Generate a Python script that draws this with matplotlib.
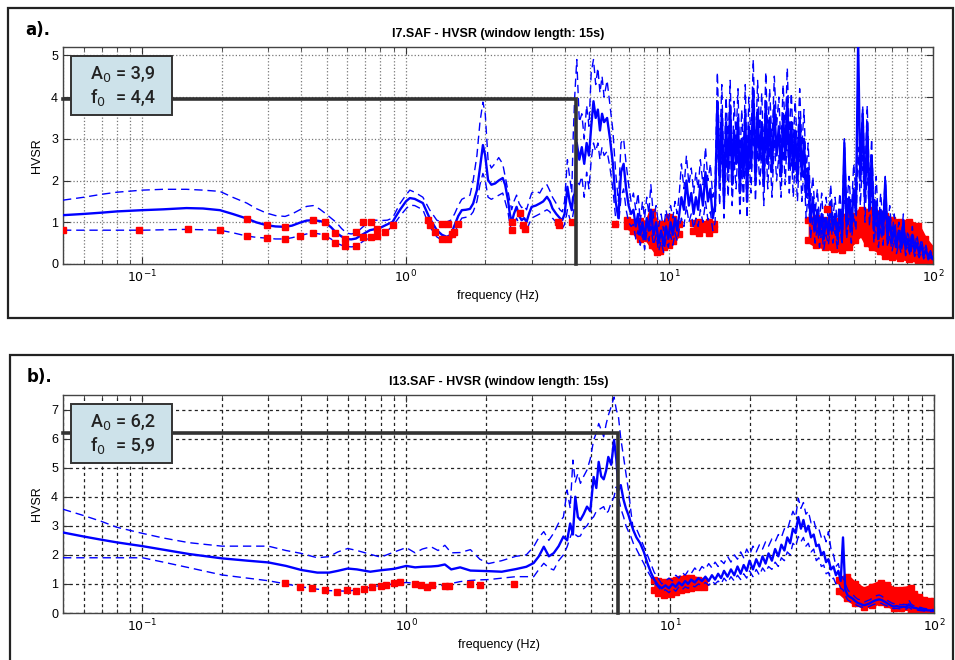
import matplotlib
matplotlib.use("Agg")
import matplotlib.pyplot as plt
from matplotlib.patches import Rectangle
from matplotlib.ticker import FixedLocator, NullFormatter

plt.rcParams['font.family'] = ['Liberation Sans', 'DejaVu Sans']

# ---------------- panel a) : I7.SAF ----------------
a_freq = [
    0.05, 0.06, 0.07, 0.08, 0.1, 0.12, 0.147, 0.17, 0.197, 0.22,
    0.249, 0.27, 0.296, 0.32, 0.348, 0.37, 0.396, 0.42, 0.445, 0.47,
    0.493, 0.52, 0.546, 0.57, 0.596, 0.62, 0.646, 0.69, 0.73, 0.77,
    0.8, 0.85, 0.89, 0.95, 1.0, 1.035, 1.08, 1.16, 1.23, 1.31,
    1.37, 1.43, 1.48, 1.53, 1.58, 1.63, 1.69, 1.75, 1.8, 1.86,
    1.91, 1.96, 2.0, 2.05, 2.11, 2.18, 2.25, 2.33, 2.38, 2.44,
    2.48, 2.52, 2.57, 2.63, 2.69, 2.75, 2.81, 2.87, 2.93, 3.0,
    3.11, 3.22, 3.32, 3.43, 3.52, 3.6, 3.72, 3.84, 3.92, 4.0,
    4.05, 4.1, 4.18, 4.26, 4.31, 4.37, 4.45, 4.55, 4.65, 4.75,
    4.85, 4.95, 5.05, 5.15, 5.25, 5.35, 5.45, 5.55, 5.65, 5.8,
    5.95, 6.1, 6.25, 6.4, 6.55, 6.7, 6.85, 7.0, 7.15, 7.3,
    7.45, 7.6, 7.75, 7.9, 8.05, 8.2, 8.35, 8.5, 8.7, 8.9,
    9.1, 9.3, 9.5, 9.7, 9.9, 10.1, 10.3, 10.5, 10.7, 10.9,
    11.1, 11.35, 11.6, 11.85, 12.1, 12.35, 12.6, 12.85, 13.1, 13.4,
    13.7, 14.0, 14.3, 14.6, 14.9, 15.2, 15.5, 15.8, 16.1, 16.4,
    16.7, 17.0, 17.3, 17.6, 17.9, 18.2, 18.5, 18.8, 19.1, 19.4,
    19.7, 20.0, 20.4, 20.8, 21.2, 21.6, 22.0, 22.4, 22.8, 23.2,
    23.6, 24.0, 24.5, 25.0, 25.5, 26.0, 26.5, 27.0, 27.5, 28.0,
    28.5, 29.0, 29.5, 30.0, 30.6, 31.2, 31.8, 32.4, 33.0, 33.6,
    34.3, 35.0, 35.7, 36.4, 37.1, 37.8, 38.5, 39.3, 40.1, 40.9,
    41.7, 42.5, 43.4, 44.3, 45.2, 46.1, 47.0, 48.0, 49.0, 50.0,
    51.0, 52.0, 53.0, 54.1, 55.2, 56.3, 57.4, 58.5, 59.7, 60.9,
    62.1, 63.3, 64.6, 65.9, 67.2, 68.5, 69.9, 71.3, 72.7, 74.2,
    75.7, 77.2, 78.7, 80.3, 81.9, 83.5, 85.2, 86.9, 88.6, 90.4,
    92.2, 94.0, 95.9, 97.8, 99.8,
]
a_hvsr = [
    1.17, 1.2, 1.23, 1.26, 1.29, 1.31, 1.34, 1.33, 1.29, 1.2,
    1.09, 1.0, 0.93, 0.9, 0.89, 0.92, 0.99, 1.04, 1.05, 1.03,
    1.0, 0.88, 0.74, 0.66, 0.6, 0.59, 0.61, 0.72, 0.81, 0.84,
    0.87, 0.95, 1.01, 1.3, 1.5, 1.58, 1.56, 1.46, 1.1, 0.81,
    0.7, 0.65, 0.7, 0.93, 1.15, 1.29, 1.3, 1.32, 1.45, 1.77,
    2.3, 2.85, 2.6, 2.01, 1.9, 1.93, 2.0, 2.06, 1.9, 1.53,
    1.2, 1.0, 1.2, 1.37, 1.15, 1.05, 1.1, 1.01, 1.2, 1.37,
    1.4, 1.45, 1.5, 1.61, 1.5, 1.33, 1.2, 1.1, 1.05, 1.2,
    1.5, 1.85, 1.5, 1.29, 1.6, 1.69, 2.9, 2.5, 2.8, 2.4,
    2.9, 2.6, 3.3, 3.9, 3.5, 3.7, 3.2, 3.6, 3.4, 3.5,
    3.0, 2.4, 1.5, 1.1, 2.2, 2.4, 1.8, 1.4, 1.2, 1.3,
    0.9, 1.2, 0.7, 1.0, 0.6, 1.1, 0.8, 1.3, 0.7, 1.0,
    0.5, 0.8, 0.45, 0.9, 0.6, 1.0, 0.7, 1.1, 0.8, 1.2,
    1.6, 1.3, 2.0, 1.4, 1.7, 1.2, 1.6, 1.3, 1.9, 1.4,
    2.2, 1.5, 1.8, 1.1, 1.4, 3.9, 2.0, 3.6, 1.5, 3.4,
    2.2, 3.8, 1.9, 3.2, 2.4, 3.5, 1.7, 3.0, 2.1, 3.6,
    1.5, 3.3, 2.3, 4.2, 2.0, 3.7, 2.5, 3.4, 1.9, 3.9,
    2.4, 3.5, 2.2, 3.8, 2.6, 3.3, 2.1, 3.6, 2.5, 4.0,
    2.3, 3.4, 2.2, 3.2, 2.0, 3.5, 2.1, 3.0, 1.6, 2.3,
    1.0, 1.6, 0.8, 1.3, 0.7, 1.2, 0.6, 1.1, 0.7, 1.5,
    0.8, 1.2, 0.6, 1.3, 0.7, 2.9, 0.9, 1.6, 0.8, 1.8,
    1.2, 5.3, 2.0, 3.6, 1.5, 3.4, 1.3, 2.6, 0.8, 1.5,
    0.6, 1.3, 0.7, 2.0, 0.6, 1.1, 0.5, 0.9, 0.4, 0.8,
    0.4, 1.0, 0.35, 0.6, 0.3, 0.7, 0.3, 0.5, 0.25, 0.45,
    0.2, 0.35, 0.15, 0.25, 0.12,
]
a_upper = [
    1.53, 1.6, 1.67, 1.72, 1.77, 1.79, 1.79, 1.77, 1.74, 1.6,
    1.46, 1.33, 1.22, 1.16, 1.14, 1.2, 1.3, 1.38, 1.4, 1.32,
    1.22, 1.1, 0.99, 0.85, 0.74, 0.72, 0.74, 0.9, 1.05, 1.05,
    1.04, 1.05, 1.1, 1.45, 1.65, 1.77, 1.72, 1.6, 1.3, 1.05,
    1.0, 1.01, 1.05, 1.2, 1.4, 1.55, 1.6, 1.65, 2.0, 2.6,
    3.4, 3.88, 3.6, 2.5, 2.3, 2.41, 2.55, 2.4, 2.1, 1.75,
    1.5, 1.3, 1.5, 1.65, 1.45, 1.35, 1.4, 1.3, 1.5, 1.7,
    1.75, 1.7, 1.85, 1.9, 1.75, 1.6, 1.45, 1.3, 1.25, 1.5,
    2.0, 2.5, 2.1, 1.7, 3.0, 4.0, 4.9, 3.4, 3.6, 3.0,
    3.8, 3.3, 4.6, 4.9, 4.3, 4.7, 4.1, 4.5, 4.0, 4.4,
    3.8, 3.2, 2.2, 1.5, 2.9, 3.0, 2.4, 1.9, 1.5, 1.7,
    1.3, 1.7, 1.0, 1.5, 1.1, 1.6, 1.2, 1.9, 1.1, 1.4,
    0.9, 1.2, 0.8, 1.3, 1.0, 1.4, 1.1, 1.5, 1.2, 1.7,
    2.4, 1.8, 2.6, 1.9, 2.3, 1.7, 2.2, 1.8, 2.5, 1.9,
    2.8, 2.0, 2.4, 1.6, 1.9, 4.6, 2.6, 4.3, 2.2, 4.0,
    2.9, 4.4, 2.5, 3.9, 3.0, 4.2, 2.4, 3.7, 2.7, 4.3,
    2.2, 4.0, 3.0, 4.9, 2.7, 4.4, 3.2, 4.1, 2.6, 4.6,
    3.1, 4.2, 2.9, 4.5, 3.3, 4.0, 2.8, 4.3, 3.2, 4.7,
    3.0, 4.1, 2.9, 3.9, 2.7, 4.2, 2.8, 3.7, 2.2, 2.9,
    1.5, 2.1, 1.2, 1.8, 1.0, 1.7, 0.9, 1.6, 1.0, 1.9,
    1.1, 1.6, 0.9, 1.7, 1.0, 3.0, 1.3, 2.1, 1.2, 2.4,
    1.7, 4.2, 2.6, 3.8, 2.1, 3.8, 1.8, 3.0, 1.2, 2.1,
    0.9, 1.7, 1.0, 2.1, 0.8, 1.4, 0.7, 1.2, 0.6, 1.0,
    0.6, 1.2, 0.5, 0.8, 0.45, 0.9, 0.4, 0.7, 0.35, 0.6,
    0.3, 0.45, 0.22, 0.32, 0.18,
]
a_lower = [
    0.81, 0.81, 0.81, 0.81, 0.81, 0.82, 0.83, 0.82, 0.81, 0.75,
    0.67, 0.64, 0.62, 0.6, 0.6, 0.63, 0.68, 0.72, 0.74, 0.72,
    0.68, 0.6, 0.5, 0.45, 0.42, 0.41, 0.42, 0.55, 0.63, 0.68,
    0.72, 0.8, 0.9, 1.15, 1.32, 1.41, 1.4, 1.3, 0.9, 0.65,
    0.57, 0.53, 0.57, 0.75, 0.95, 1.1, 1.12, 1.15, 1.25, 1.5,
    1.9, 2.17, 2.0, 1.6, 1.55, 1.6, 1.65, 1.7, 1.5, 1.25,
    0.95, 0.8, 0.95, 1.1, 0.95, 0.85, 0.9, 0.8, 0.95, 1.1,
    1.15, 1.2, 1.25, 1.3, 1.25, 1.1, 1.0, 0.9, 0.85, 0.95,
    1.1, 1.3, 1.1, 1.0, 1.2, 1.4, 2.0, 1.9, 2.1, 1.6,
    2.2, 1.8, 2.5, 2.9, 2.7, 2.9, 2.5, 2.8, 2.6, 2.7,
    2.3, 1.8, 1.1, 0.9, 1.6, 1.8, 1.3, 1.0, 0.9, 0.95,
    0.6, 0.8, 0.45, 0.7, 0.35, 0.75, 0.55, 0.9, 0.45, 0.7,
    0.3, 0.55, 0.28, 0.6, 0.4, 0.7, 0.45, 0.75, 0.55, 0.85,
    1.1, 0.9, 1.4, 1.0, 1.2, 0.85, 1.1, 0.9, 1.3, 1.0,
    1.5, 1.05, 1.25, 0.8, 1.0, 3.2, 1.4, 2.9, 1.1, 2.7,
    1.6, 3.0, 1.4, 2.5, 1.8, 2.8, 1.2, 2.3, 1.5, 2.8,
    1.1, 2.6, 1.7, 3.4, 1.5, 2.9, 1.9, 2.7, 1.4, 3.1,
    1.8, 2.8, 1.6, 3.0, 2.0, 2.6, 1.6, 2.9, 1.9, 3.2,
    1.7, 2.7, 1.6, 2.5, 1.5, 2.8, 1.5, 2.3, 1.1, 1.7,
    0.6, 1.1, 0.5, 0.9, 0.4, 0.8, 0.35, 0.7, 0.45, 1.0,
    0.5, 0.8, 0.35, 0.9, 0.45, 1.8, 0.6, 1.1, 0.5, 1.2,
    0.8, 2.8, 1.4, 2.6, 1.0, 2.4, 0.9, 1.8, 0.5, 1.0,
    0.4, 0.9, 0.45, 1.3, 0.4, 0.7, 0.3, 0.6, 0.25, 0.5,
    0.25, 0.65, 0.2, 0.4, 0.2, 0.45, 0.18, 0.3, 0.15, 0.3,
    0.12, 0.22, 0.1, 0.16, 0.08,
]
# red marks (single windows)
a_mark_f = [0.05, 0.097, 0.149, 0.197, 0.249, 0.249, 0.296, 0.296, 0.348, 0.348,
            0.396, 0.445, 0.445, 0.493, 0.493, 0.54, 0.54, 0.59, 0.59, 0.646,
            0.646, 0.69, 0.69, 0.74, 0.74, 0.78, 0.78, 0.83, 0.89, 1.216,
            1.23, 1.29, 1.366, 1.366, 1.447, 1.447, 1.49, 1.58, 1.52, 2.52,
            2.52, 2.71, 2.78, 2.84, 3.78, 3.8, 4.25, 6.2, 39.5]
a_mark_v = [0.81, 0.81, 0.83, 0.81, 1.09, 0.67, 0.93, 0.62, 0.89, 0.6,
            0.68, 1.05, 0.74, 1.0, 0.68, 0.75, 0.5, 0.6, 0.42, 0.77,
            0.42, 1.0, 0.64, 1.0, 0.64, 0.83, 0.67, 0.77, 0.93, 1.05,
            0.93, 0.77, 0.97, 0.61, 0.97, 0.61, 0.73, 0.97, 0.77, 1.01,
            0.81, 1.22, 0.93, 0.85, 1.01, 0.93, 1.01, 0.97, 1.31]
# red marks (dense bands): frequency, top edge, bottom edge
a_band1_f = [6.9, 7.3, 7.7, 8.2, 8.55, 8.95, 9.2, 9.5, 10.0, 10.3, 10.9]
a_band1_top = [1.05, 1.0, 1.02, 0.95, 1.25, 0.95, 0.9, 0.95, 1.12, 1.08, 0.95]
a_band1_bot = [0.9, 0.8, 0.6, 0.62, 0.45, 0.28, 0.3, 0.4, 0.45, 0.55, 0.72]
a_band2_f = [12.3, 12.9, 13.5, 14.1, 14.8]
a_band2_top = [0.98, 1.0, 0.95, 1.0, 0.95]
a_band2_bot = [0.8, 0.75, 0.85, 0.75, 0.85]
a_band3_f = [33.6, 36, 38.8, 42, 45.1, 48, 50.6, 53.6, 56, 58.6,
             63, 66, 69.8, 75, 80.8, 88, 93, 100]
a_band3_top = [1.05, 1.1, 1.05, 1.0, 1.1, 1.2, 1.15, 1.3, 1.25, 1.3,
               1.2, 1.15, 1.05, 1.0, 1.0, 0.9, 0.6, 0.35]
a_band3_bot = [0.57, 0.45, 0.41, 0.35, 0.33, 0.4, 0.57, 0.73, 0.5, 0.41,
               0.3, 0.2, 0.17, 0.15, 0.12, 0.08, 0.05, 0.05]

# ---------------- panel b) : I13.SAF ----------------
b_freq = [
    0.05, 0.06, 0.07, 0.08, 0.1, 0.12, 0.15, 0.2, 0.25, 0.3,
    0.35, 0.4, 0.46, 0.51, 0.55, 0.6, 0.65, 0.73, 0.8, 0.9,
    1.0, 1.08, 1.15, 1.24, 1.32, 1.4, 1.48, 1.6, 1.75, 1.9,
    2.05, 2.3, 2.6, 2.85,
    3.04, 3.18, 3.32, 3.47, 3.62, 3.78, 3.94, 4.07, 4.18, 4.28,
    4.37, 4.47, 4.57, 4.7, 4.84, 4.98, 5.13, 5.25, 5.36, 5.48,
    5.6, 5.72, 5.83, 5.98, 6.13, 6.25, 6.37, 6.5, 6.66, 6.8,
    6.95, 7.1, 7.25, 7.45, 7.7, 7.95, 8.2, 8.45, 8.7, 9.0,
    9.3, 9.6, 9.9, 10.2, 10.5, 10.8, 11.1, 11.4, 11.7, 12.0,
    12.4, 12.8, 13.2, 13.6, 14.0, 14.4, 14.8, 15.2, 15.6, 16.0,
    16.5, 17.0, 17.5, 18.0, 18.5, 19.0, 19.5, 20.0, 20.6, 21.2,
    21.8, 22.4, 23.0, 23.6, 24.3, 25.0, 25.7, 26.4, 27.1, 27.8,
    28.5, 29.2, 29.9, 30.6, 31.3, 32.0, 32.7, 33.4, 34.2, 35.0,
    35.8, 36.6, 37.4, 38.2, 39.0, 39.8, 40.7, 41.6, 42.5, 43.4,
    44.3, 45.2, 46.1, 47.1, 48.1, 49.1, 50.2, 51.3, 52.4, 53.5,
    54.6, 55.8, 57.0, 58.2, 59.4, 60.7, 62.0, 63.3, 64.7, 66.1,
    67.5, 69.0, 70.5, 72.0, 73.6, 75.2, 76.8, 78.5, 80.2, 81.9,
    83.7, 85.5, 87.4, 89.3, 91.2, 93.2, 95.2, 97.3, 99.5,
]
b_hvsr = [
    2.77, 2.63, 2.52, 2.43, 2.30, 2.18, 2.03, 1.88, 1.80, 1.74,
    1.62, 1.48, 1.39, 1.39, 1.45, 1.53, 1.50, 1.42, 1.47, 1.52,
    1.62, 1.57, 1.59, 1.60, 1.62, 1.67, 1.50, 1.57, 1.46, 1.45,
    1.44, 1.42, 1.51, 1.59,
    1.72, 1.95, 2.28, 1.95, 2.06, 2.3, 2.63, 2.5, 3.08, 2.7,
    4.0, 3.3, 3.2, 3.4, 3.66, 3.5, 4.68, 4.3, 5.2, 4.7,
    4.6, 4.9, 5.37, 5.1, 5.95, 5.3, 4.23, 4.4, 3.89, 3.6,
    3.37, 3.1, 2.85, 2.6, 2.4, 2.1, 1.71, 1.4, 1.15, 0.95,
    0.85, 0.95, 0.85, 1.0, 0.9, 1.05, 0.95, 1.1, 1.0, 1.15,
    1.05, 1.2, 1.1, 1.25, 1.1, 1.3, 1.15, 1.35, 1.2, 1.45,
    1.25, 1.5, 1.3, 1.6, 1.35, 1.65, 1.45, 1.8, 1.5, 1.85,
    1.6, 1.95, 1.7, 2.05, 1.8, 2.2, 1.95, 2.35, 2.15, 2.6,
    2.4, 2.9, 2.75, 3.3, 2.9, 3.2, 2.8, 3.0, 2.6, 2.7,
    2.3, 2.35, 2.0, 2.1, 1.75, 1.85, 1.5, 1.6, 1.3, 1.45,
    1.1, 2.6, 0.8, 0.6, 0.55, 0.5, 0.42, 0.35, 0.32, 0.28,
    0.27, 0.3, 0.33, 0.38, 0.42, 0.45, 0.47, 0.45, 0.4, 0.35,
    0.3, 0.25, 0.22, 0.24, 0.22, 0.2, 0.22, 0.2, 0.3, 0.22,
    0.18, 0.17, 0.14, 0.13, 0.11, 0.1, 0.09, 0.09, 0.08,
]
b_upper = [
    3.57, 3.35, 3.15, 2.95, 2.74, 2.58, 2.42, 2.30, 2.30, 2.30,
    2.15, 2.05, 1.90, 1.94, 2.10, 2.22, 2.15, 2.02, 1.92, 2.10,
    2.25, 2.07, 2.20, 2.28, 2.15, 2.33, 2.07, 2.08, 2.18, 1.85,
    1.70, 1.80, 1.95, 2.00,
    2.28, 2.6, 2.8, 2.5, 2.75, 3.1, 3.3, 4.23, 3.6, 5.26,
    4.5, 4.8, 4.46, 4.7, 4.92, 5.3, 5.95, 6.2, 6.52, 6.3,
    6.06, 6.5, 6.8, 7.1, 7.43, 7.0, 6.75, 6.0, 5.37, 4.8,
    4.23, 3.5, 2.85, 2.9, 2.6, 2.28, 2.0, 1.7, 1.4, 1.2,
    1.0, 1.1, 1.2, 1.1, 1.3, 1.2, 1.4, 1.3, 1.45, 1.35,
    1.55, 1.4, 1.6, 1.5, 1.7, 1.55, 1.75, 1.6, 1.8, 1.7,
    1.95, 1.75, 2.0, 1.85, 2.1, 1.9, 2.2, 2.0, 2.3, 2.1,
    2.35, 2.2, 2.45, 2.3, 2.55, 2.45, 2.7, 2.6, 2.9, 2.85,
    3.2, 3.5, 3.3, 3.95, 3.6, 3.8, 3.4, 3.5, 3.1, 3.2,
    2.85, 2.9, 2.6, 2.7, 2.45, 2.8, 2.2, 2.0, 1.6, 1.7,
    1.3, 1.2, 1.0, 0.8, 0.7, 0.65, 0.55, 0.48, 0.45, 0.4,
    0.38, 0.42, 0.45, 0.5, 0.55, 0.6, 0.62, 0.58, 0.52, 0.45,
    0.4, 0.35, 0.32, 0.34, 0.3, 0.28, 0.3, 0.28, 0.45, 0.3,
    0.25, 0.24, 0.2, 0.19, 0.16, 0.15, 0.13, 0.13, 0.12,
]
b_lower = [
    1.90, 1.90, 1.90, 1.90, 1.90, 1.75, 1.56, 1.31, 1.20, 1.11,
    1.00, 0.90, 0.82, 0.77, 0.76, 0.75, 0.80, 0.88, 0.95, 1.00,
    1.05, 1.02, 0.95, 0.88, 0.92, 0.97, 1.02, 1.08, 1.12, 1.14,
    1.15, 1.20, 1.25, 1.25,
    1.25, 1.5, 1.71, 1.55, 1.48, 1.8, 2.0, 2.28, 2.6, 2.85,
    2.7, 2.63, 2.65, 2.9, 3.0, 3.2, 3.31, 3.5, 3.55, 3.6,
    3.66, 3.43, 3.5, 3.8, 4.0, 4.34, 4.0, 3.6, 3.31, 3.0,
    2.8, 2.63, 2.4, 2.2, 1.94, 1.7, 1.45, 1.25, 1.05, 0.9,
    0.75, 0.8, 0.7, 0.85, 0.75, 0.9, 0.8, 0.9, 0.85, 0.95,
    0.9, 1.0, 0.95, 1.05, 0.95, 1.1, 1.0, 1.1, 1.0, 1.2,
    1.05, 1.25, 1.1, 1.3, 1.15, 1.35, 1.2, 1.45, 1.25, 1.5,
    1.3, 1.55, 1.4, 1.6, 1.5, 1.75, 1.6, 1.9, 1.8, 2.1,
    2.0, 2.4, 2.3, 2.63, 2.45, 2.6, 2.3, 2.4, 2.1, 2.2,
    1.8, 1.9, 1.6, 1.65, 1.35, 1.4, 1.15, 1.2, 1.0, 1.05,
    0.85, 0.8, 0.6, 0.45, 0.4, 0.35, 0.3, 0.25, 0.22, 0.2,
    0.18, 0.2, 0.23, 0.27, 0.3, 0.33, 0.35, 0.33, 0.28, 0.25,
    0.2, 0.17, 0.15, 0.16, 0.15, 0.13, 0.15, 0.13, 0.2, 0.14,
    0.12, 0.11, 0.09, 0.08, 0.07, 0.06, 0.06, 0.05, 0.05,
]
b_mark_f = [0.348, 0.396, 0.44, 0.49, 0.546, 0.596, 0.646, 0.69, 0.74, 0.8,
            0.84, 0.9, 0.95, 1.08, 1.14, 1.2, 1.25, 1.4, 1.45, 1.74,
            1.91, 2.55]
b_mark_v = [1.02, 0.9, 0.87, 0.79, 0.73, 0.79, 0.77, 0.81, 0.9, 0.92,
            0.97, 1.02, 1.05, 1.0, 0.97, 0.88, 0.97, 0.92, 0.92, 1.0,
            0.97, 1.0]
b_band1_f = [8.67, 9.0, 9.45, 10.04, 10.5, 10.95, 11.5, 11.96, 12.7, 13.4]
b_band1_top = [1.12, 1.1, 1.08, 1.1, 1.15, 1.18, 1.2, 1.22, 1.15, 1.1]
b_band1_bot = [0.8, 0.68, 0.62, 0.65, 0.72, 0.78, 0.82, 0.85, 0.88, 0.9]
b_band2_f = [43.7, 46.8, 50, 54.3, 58, 63, 66.5, 70.5, 75, 81.6,
             84, 88, 91.6, 96, 100]
b_band2_top = [1.13, 1.25, 1.0, 0.79, 0.9, 1.04, 0.95, 0.79, 0.8, 0.86,
               0.65, 0.55, 0.45, 0.42, 0.4]
b_band2_bot = [0.75, 0.5, 0.35, 0.22, 0.28, 0.38, 0.3, 0.18, 0.16, 0.15,
               0.12, 0.1, 0.06, 0.05, 0.05]

titles = ["I7.SAF - HVSR (window length: 15s)", "I13.SAF - HVSR (window length: 15s)"]
tags = ["a).", "b)."]
A0_text = ["3,9", "6,2"]
f0_text = ["4,4", "5,9"]
peak_f = [4.42, 6.35]      # where the black marker line is drawn
peak_a = [3.96, 6.18]
y_max = [5.2, 7.5]

W, H = 955, 660
fig = plt.figure(figsize=(W / 100, H / 100), dpi=100)


def box(x0, y0, x1, y1):
    # pixel rectangle -> figure fraction
    return [x0 / W, 1 - y1 / H, (x1 - x0) / W, (y1 - y0) / H]


def panel(i, ax_px, frame_px, freq, hv, up, lo, mk_f, mk_v, bands, grid_kw):
    fb = box(*frame_px)
    fig.add_artist(Rectangle(fb[:2], fb[2], fb[3], transform=fig.transFigure,
                             fill=False, ec='#222222', lw=1.6))
    ax = fig.add_axes(box(*ax_px))

    # dense red windows drawn as a band of marks
    for bf, top, bot in bands:
        ax.fill_between(bf, bot, top, color='red', lw=0, zorder=2)
        for edge in (top, bot):
            ax.plot(bf, edge, color='red', lw=3.5, marker='s', ms=4.5,
                    solid_joinstyle='round', solid_capstyle='round', zorder=2)
    ax.plot(freq, up, color='blue', lw=1.0, dashes=(6, 3.5), zorder=3)
    ax.plot(freq, lo, color='blue', lw=1.0, dashes=(6, 3.5), zorder=3)
    ax.plot(freq, hv, color='blue', lw=1.7, zorder=3, solid_joinstyle='round')
    ax.plot(mk_f, mk_v, 's', color='red', ms=4.2, zorder=4)
    ax.plot([0.05, peak_f[i], peak_f[i]], [peak_a[i], peak_a[i], 0],
            color='#333333', lw=2.6, zorder=5, solid_joinstyle='miter',
            clip_on=False)

    ax.set_xscale('log')
    ax.set_xlim(0.05, 100)
    ax.set_ylim(0, y_max[i])
    ax.set_yticks(range(0, int(y_max[i]) + 1))
    ax.xaxis.set_major_locator(FixedLocator([0.1, 1, 10, 100]))
    ax.set_xticklabels(['$10^{-1}$', '$10^{0}$', '$10^{1}$', '$10^{2}$'])
    minors = [m * d for d in (0.01, 0.1, 1, 10) for m in range(2, 10)]
    ax.xaxis.set_minor_locator(FixedLocator([v for v in minors if 0.05 <= v <= 100]))
    ax.xaxis.set_minor_formatter(NullFormatter())
    ax.tick_params(which='both', direction='in', top=True, right=True,
                   labelsize=9, color='#333333')
    ax.tick_params(which='major', length=5)
    ax.tick_params(which='minor', length=3)
    ax.grid(True, which='both', axis='x', **grid_kw)
    ax.grid(True, which='major', axis='y', **grid_kw)
    ax.set_axisbelow(True)
    for s in ax.spines.values():
        s.set_color('#444444')
        s.set_linewidth(1.0)

    ax.set_title(titles[i], fontsize=9, fontweight='bold', pad=7)
    ax.set_xlabel('frequency (Hz)', fontsize=9, labelpad=3)
    ax.set_ylabel('HVSR', fontsize=9, labelpad=6)

    # panel tag
    fig.text((frame_px[0] + 17) / W, 1 - (frame_px[1] + 22) / H, tags[i],
             fontsize=12, fontweight='bold', va='center', family='DejaVu Sans')

    # A0 / f0 box
    bx0, by0 = ax_px[0] + 8, ax_px[1] + 9
    bb = box(bx0, by0, bx0 + 101, by0 + 59)
    fig.add_artist(Rectangle(bb[:2], bb[2], bb[3], transform=fig.transFigure,
                             fc='#cde2ea', ec='#333333', lw=1.4, zorder=10))
    tkw = dict(fontsize=13, va='center', zorder=11, family='Roboto',
               fontweight='medium', color='#222222')
    fig.text((bx0 + 19) / W, 1 - (by0 + 18) / H, 'A$_0$', **tkw)
    fig.text((bx0 + 45) / W, 1 - (by0 + 18) / H, '= ' + A0_text[i], **tkw)
    fig.text((bx0 + 19) / W, 1 - (by0 + 42) / H, 'f$_0$', **tkw)
    fig.text((bx0 + 45) / W, 1 - (by0 + 42) / H, '= ' + f0_text[i], **tkw)
    return ax


panel(0, (63, 47, 933, 264), (8, 8, 953, 318), a_freq, a_hvsr, a_upper, a_lower,
      a_mark_f, a_mark_v,
      [(a_band1_f, a_band1_top, a_band1_bot),
       (a_band2_f, a_band2_top, a_band2_bot),
       (a_band3_f, a_band3_top, a_band3_bot)],
      dict(ls=':', color='#777777', lw=0.9))
panel(1, (63, 395, 934, 613), (10, 355, 953, 690), b_freq, b_hvsr, b_upper, b_lower,
      b_mark_f, b_mark_v,
      [(b_band1_f, b_band1_top, b_band1_bot),
       (b_band2_f, b_band2_top, b_band2_bot)],
      dict(ls=(0, (2.5, 2.5)), color='#222222', lw=0.9))

fig.savefig('out.png', dpi=100)
